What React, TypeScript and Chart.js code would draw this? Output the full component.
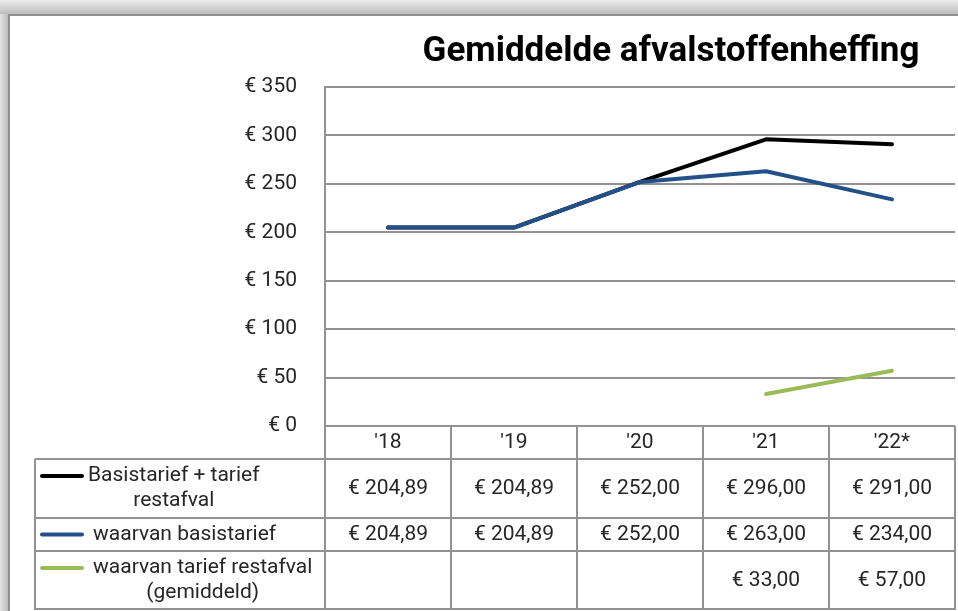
import React, { useEffect, useRef } from "react";
import { Chart, registerables } from "chart.js";

Chart.register(...registerables);

// ---- data ----
const categories = ["'18", "'19", "'20", "'21", "'22*"];
const totalValues = [204.89, 204.89, 252.0, 296.0, 291.0];
const basisValues = [204.89, 204.89, 252.0, 263.0, 234.0];
const restValues: (number | null)[] = [null, null, null, 33.0, 57.0];
const seriesLabels = [
  ["Basistarief + tarief", "restafval"],
  ["waarvan basistarief"],
  ["waarvan tarief restafval", "(gemiddeld)"],
];
const titleText = "Gemiddelde afvalstoffenheffing";
const yMin = 0;
const yMax = 350;
const yStep = 50;

// ---- styles ----
const W = 958;
const H = 611;
const FONT = "Roboto";
const FS = 21;
const TEXT = "#262626";
const GRID = "#929292";
const colors = ["#000000", "#24508a", "#9bbb59"];
const rowHeights = [33, 59, 33, 59];
const tableLeft = 35;

const fmt = (v: number | null) =>
  v == null ? "" : "€ " + v.toFixed(2).replace(".", ",");

const framePlugin = {
  id: "frame",
  beforeDraw(chart: any) {
    const ctx = chart.ctx;
    ctx.save();
    ctx.fillStyle = "#ffffff";
    ctx.fillRect(0, 0, W, H);
    const gt = ctx.createLinearGradient(0, 0, 0, 14);
    gt.addColorStop(0, "#ececec");
    gt.addColorStop(1, "#bdbdbd");
    ctx.fillStyle = gt;
    ctx.fillRect(0, 0, W, 14);
    const gl = ctx.createLinearGradient(0, 0, 8, 0);
    gl.addColorStop(0, "#e4e4e4");
    gl.addColorStop(1, "#bcbcbc");
    ctx.fillStyle = gl;
    ctx.fillRect(0, 14, 8, H - 14);
    ctx.fillStyle = "#8e8e8e";
    ctx.fillRect(8, 14, W - 8, 2);
    ctx.fillRect(8, 14, 2, H - 14);
    ctx.restore();
  },
};

const titlePlugin = {
  id: "customTitle",
  afterDraw(chart: any) {
    const ctx = chart.ctx;
    ctx.save();
    ctx.font = `bold 35px ${FONT}`;
    ctx.fillStyle = "#000000";
    ctx.textAlign = "center";
    ctx.textBaseline = "middle";
    ctx.fillText(titleText, 671, 52);
    ctx.restore();
  },
};

const tablePlugin = {
  id: "dataTable",
  afterDraw(chart: any) {
    const { ctx, chartArea } = chart;
    const x = chart.scales.x;
    const n = categories.length;
    const step = x.getPixelForValue(1) - x.getPixelForValue(0);
    const colLeft = x.getPixelForValue(0) - step / 2;
    const colRight = x.getPixelForValue(n - 1) + step / 2;
    const top = chartArea.bottom;
    const ys = [top];
    rowHeights.forEach((h) => ys.push(ys[ys.length - 1] + h));

    ctx.save();
    ctx.strokeStyle = GRID;
    ctx.lineWidth = 2;
    ctx.beginPath();
    for (let r = 1; r < ys.length; r++) {
      const yy = r === ys.length - 1 ? ys[r] - 1 : ys[r];
      ctx.moveTo(tableLeft, yy);
      ctx.lineTo(colRight, yy);
    }
    ctx.moveTo(tableLeft, ys[1]);
    ctx.lineTo(tableLeft, ys[ys.length - 1]);
    for (let i = 0; i <= n; i++) {
      const xx = colLeft + i * step;
      ctx.moveTo(xx, top);
      ctx.lineTo(xx, ys[ys.length - 1]);
    }
    ctx.stroke();

    const series = [totalValues, basisValues, restValues];
    ctx.font = `${FS}px ${FONT}`;
    ctx.fillStyle = TEXT;
    ctx.textBaseline = "middle";
    series.forEach((vals, s) => {
      const y0 = ys[s + 1];
      const y1 = ys[s + 2];
      const cy = (y0 + y1) / 2;
      ctx.textAlign = "center";
      vals.forEach((v, i) => {
        if (v == null) return;
        ctx.fillText(fmt(v), x.getPixelForValue(i), cy);
      });
      const lines = seriesLabels[s];
      const lh = 25;
      const firstY = cy - ((lines.length - 1) * lh) / 2;
      ctx.strokeStyle = colors[s];
      ctx.lineWidth = 4;
      ctx.lineCap = "round";
      ctx.beginPath();
      ctx.moveTo(42, firstY);
      ctx.lineTo(82, firstY);
      ctx.stroke();
      const startX = s === 0 ? 88 : 93;
      const blockW = Math.max(...lines.map((l) => ctx.measureText(l).width));
      ctx.textAlign = "center";
      lines.forEach((l, k) => {
        ctx.fillText(l, startX + blockW / 2, firstY + k * lh);
      });
    });
    ctx.restore();
  },
};

export default function App() {
  const ref = useRef<HTMLCanvasElement>(null);
  useEffect(() => {
    if (!ref.current) return;
    const mk = (i: number, data: (number | null)[], order: number) => ({
      label: seriesLabels[i].join(" "),
      data,
      borderColor: colors[i],
      backgroundColor: colors[i],
      borderWidth: 4,
      pointRadius: 0,
      borderCapStyle: "round" as const,
      borderJoinStyle: "round" as const,
      tension: 0,
      spanGaps: false,
      order,
    });
    const chart = new Chart(ref.current, {
      type: "line",
      data: {
        labels: categories,
        datasets: [mk(0, totalValues, 2), mk(1, basisValues, 1), mk(2, restValues, 0)],
      },
      options: {
        responsive: false,
        animation: false,
        layout: { padding: { top: 87, left: 0, right: 3, bottom: 0 } },
        plugins: {
          legend: { display: false },
          title: { display: false },
          tooltip: { enabled: false },
        },
        scales: {
          x: {
            type: "category",
            offset: true,
            grid: { display: false, drawTicks: false },
            border: { display: false },
            ticks: {
              font: { family: FONT, size: FS },
              color: TEXT,
              padding: 4,
              maxRotation: 0,
              autoSkip: false,
            },
            afterFit: (scale: any) => {
              scale.height = H - 426;
            },
          },
          y: {
            min: yMin,
            max: yMax,
            grid: { color: GRID, lineWidth: 2, drawTicks: false },
            border: { display: true, color: GRID, width: 2 },
            ticks: {
              stepSize: yStep,
              font: { family: FONT, size: FS },
              color: TEXT,
              padding: 28,
              callback: (v: any) => "€ " + v,
            },
            afterFit: (scale: any) => {
              scale.width = 325;
            },
          },
        },
      },
      plugins: [framePlugin, titlePlugin, tablePlugin],
    });
    return () => chart.destroy();
  }, []);
  return (
    <div style={{ position: "absolute", left: 0, top: 0, width: W, height: H }}>
      <canvas ref={ref} width={W} height={H} style={{ width: W, height: H, display: "block" }} />
    </div>
  );
}
